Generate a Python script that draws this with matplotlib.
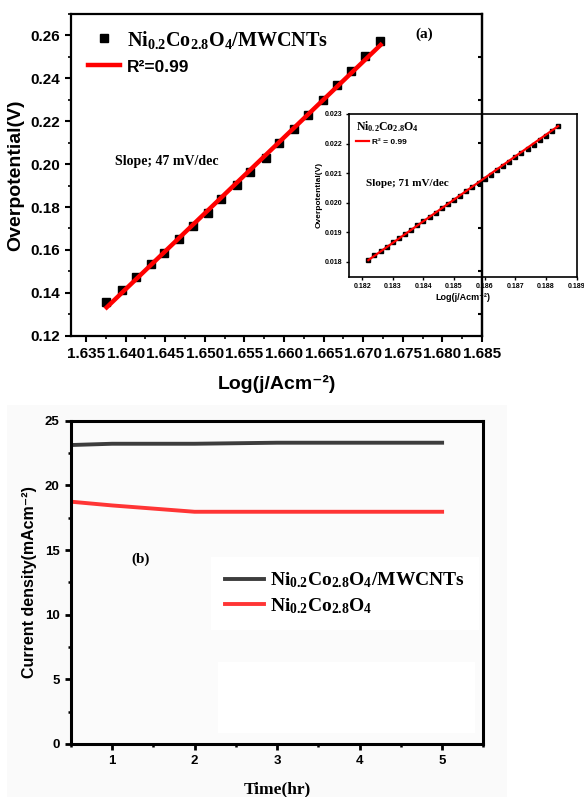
import numpy as np
import matplotlib.pyplot as plt
from matplotlib.patches import Rectangle
from matplotlib.ticker import MultipleLocator

plt.rcParams['mathtext.fontset'] = 'custom'
plt.rcParams['mathtext.rm'] = 'Liberation Serif:bold'
plt.rcParams['mathtext.bf'] = 'Liberation Serif:bold'
plt.rcParams['mathtext.it'] = 'Liberation Serif:bold'
plt.rcParams['font.family'] = ['Liberation Sans', 'DejaVu Sans']
plt.rcParams['font.weight'] = 'bold'

SANS = ['Liberation Sans', 'DejaVu Sans']
SERIF = ['Liberation Serif', 'DejaVu Serif']

# (a) Tafel plot, Ni0.2Co2.8O4/MWCNTs
tafel_x = [1.6375, 1.6395, 1.6413, 1.6432, 1.6449, 1.6468, 1.6485, 1.6504, 1.6521, 1.6540,
           1.6557, 1.6577, 1.6594, 1.6613, 1.6630, 1.6649, 1.6667, 1.6685, 1.6702, 1.6721]
tafel_y = [0.1359, 0.1413, 0.1472, 0.1533, 0.1587, 0.1649, 0.1712, 0.1774, 0.1836, 0.1903,
           0.1965, 0.2029, 0.2097, 0.2164, 0.2230, 0.2300, 0.2368, 0.2435, 0.2505, 0.2576]
fit_x = [1.6376, 1.6722]
fit_y = [0.1332, 0.2556]

# inset, Ni0.2Co2.8O4
inset_x = [0.1822, 0.1824, 0.1826, 0.1828, 0.1830, 0.1832, 0.1834, 0.1836, 0.1838, 0.1840,
           0.1842, 0.1844, 0.1846, 0.1848, 0.1850, 0.1852, 0.1854, 0.1856, 0.1858, 0.1860,
           0.1862, 0.1864, 0.1866, 0.1868, 0.1870, 0.1872, 0.1874, 0.1876, 0.1878, 0.1880,
           0.1882, 0.1884]
inset_y = [0.01806, 0.01822, 0.01836, 0.01851, 0.01866, 0.01880, 0.01894, 0.01909, 0.01924, 0.01938,
           0.01952, 0.01967, 0.01981, 0.01996, 0.02010, 0.02024, 0.02038, 0.02052, 0.02066, 0.02081,
           0.02095, 0.02110, 0.02124, 0.02139, 0.02153, 0.02168, 0.02182, 0.02196, 0.02211, 0.02226,
           0.02242, 0.02259]
inset_fit_x = [0.1822, 0.1884]
inset_fit_y = [0.01806, 0.02259]

# (b) stability
time_hr = [0.5, 1, 2, 3, 4, 5]
cnt_current = [23.12, 23.22, 23.22, 23.30, 23.30, 23.30]
bare_current = [18.74, 18.45, 17.96, 17.96, 17.96, 17.96]

label_cnt = r'$\mathbf{Ni_{0.2}Co_{2.8}O_{4}/MWCNTs}$'
label_bare = r'$\mathbf{Ni_{0.2}Co_{2.8}O_{4}}$'

fig = plt.figure(figsize=(5.84, 7.97), dpi=100)

# faint grey backdrop behind panel (b)
fig.patches.append(Rectangle((7 / 584, 0), 500 / 584, 392 / 797, transform=fig.transFigure,
                             facecolor='#fafafa', edgecolor='none', zorder=-10))

# ---------- panel (a) ----------
ax = fig.add_axes([0.1216, 0.5788, 0.7037, 0.4036])
ax.plot(tafel_x, tafel_y, 's', color='black', markersize=5.3, label=label_cnt, zorder=2)
ax.plot(fit_x, fit_y, '-', color='#ff0000', lw=3.2, label='R²=0.99', zorder=3)
ax.set_xlim(1.6331, 1.685)
ax.set_ylim(0.12, 0.27)
ax.xaxis.set_major_locator(MultipleLocator(0.005))
ax.xaxis.set_minor_locator(MultipleLocator(0.0025))
ax.yaxis.set_minor_locator(MultipleLocator(0.01))
ax.set_yticks(np.arange(0.12, 0.261, 0.02))
ax.xaxis.set_major_formatter(plt.FuncFormatter(lambda v, p: f'{v:.3f}'))
ax.yaxis.set_major_formatter(plt.FuncFormatter(lambda v, p: f'{v:.2f}'))
ax.tick_params(which='major', direction='out', length=4, width=1.5, labelsize=11, pad=4)
ax.tick_params(which='minor', direction='out', length=2.5, width=1.2)
ax.tick_params(which='both', right=False, top=False)
for s in ax.spines.values():
    s.set_linewidth(1.6)
rax = ax.secondary_yaxis('right')
rax.set_yticks(np.arange(0.13, 0.26, 0.02))
rax.tick_params(direction='in', length=3, width=1.5, labelright=False)
rax.spines['right'].set_linewidth(1.6)

ax.set_xlabel('Log(j/Acm⁻²)', fontsize=14, fontweight='bold', family=SANS, labelpad=10)
ax.set_ylabel('Overpotential(V)', fontsize=14, fontweight='bold', family=SANS, labelpad=4)

leg = ax.legend(loc='upper left', bbox_to_anchor=(0.042, 0.955), frameon=False, fontsize=14.5,
                handlelength=1.6, handletextpad=0.3, labelspacing=0.38, numpoints=1,
                borderaxespad=0, borderpad=0)
leg.get_texts()[1].set_fontfamily(SANS)
leg.get_texts()[1].set_fontsize(12.5)
leg.get_texts()[1].set_fontweight('bold')

ax.text(0.86, 0.937, '(a)', transform=ax.transAxes, fontsize=11, fontweight='bold',
        family=SERIF, ha='center', va='center')
ax.text(0.108, 0.542, 'Slope; 47 mV/dec', transform=ax.transAxes, fontsize=10, fontweight='bold',
        family=SERIF, ha='left', va='center')

# ---------- inset ----------
ins = fig.add_axes([0.5976, 0.6528, 0.3896, 0.2042])
ins.set_facecolor('none')
ins.plot(inset_x, inset_y, 's', color='black', markersize=2.2, zorder=2)
ins.plot(inset_fit_x, inset_fit_y, '-', color='#ff0000', lw=1.6, label='R² = 0.99', zorder=3)
ins.set_xlim(0.18157, 0.189)
ins.set_ylim(0.0175, 0.023)
ins.set_xticks(np.arange(0.182, 0.1891, 0.001))
ins.set_yticks(np.arange(0.018, 0.0231, 0.001))
ins.xaxis.set_major_formatter(plt.FuncFormatter(lambda v, p: f'{v:.3f}'))
ins.yaxis.set_major_formatter(plt.FuncFormatter(lambda v, p: f'{v:.3f}'))
ins.tick_params(direction='out', length=2.5, width=1, labelsize=5, pad=2)
for s in ins.spines.values():
    s.set_linewidth(1.2)
ins.set_xlabel('Log(j/Acm⁻²)', fontsize=6.5, fontweight='bold', family=SANS, labelpad=2)
ins.set_ylabel('Overpotential(V)', fontsize=6, fontweight='bold', family=SANS, labelpad=2)
ileg = ins.legend(loc='upper left', bbox_to_anchor=(0.03, 0.97), frameon=False, fontsize=6,
                  title=label_bare, title_fontsize=8.5, alignment='left',
                  handlelength=1.6, handletextpad=0.4, borderaxespad=0, borderpad=0)
ins.text(0.075, 0.57, 'Slope; 71 mV/dec', transform=ins.transAxes, fontsize=8, fontweight='bold',
         family=SERIF, ha='left', va='center')

# ---------- panel (b) ----------
bx = fig.add_axes([0.1212, 0.0665, 0.7065, 0.4056])
bx.set_facecolor('#fbfbfb')
bx.add_patch(Rectangle((0.357, 0.035), 0.623, 0.22, transform=bx.transAxes,
                       facecolor='white', edgecolor='none', zorder=0))
bx.plot(time_hr, cnt_current, '-', color='#3d3d3d', lw=2.8, label=label_cnt)
bx.plot(time_hr, bare_current, '-', color='#ff3535', lw=2.8, label=label_bare)
bx.set_xlim(0.5, 5.5)
bx.set_ylim(0, 25)
bx.set_xticks([1, 2, 3, 4, 5])
bx.xaxis.set_minor_locator(MultipleLocator(0.5))
bx.yaxis.set_major_locator(MultipleLocator(5))
bx.yaxis.set_minor_locator(MultipleLocator(2.5))
bx.tick_params(which='major', direction='out', length=4, width=2, labelsize=9.5, pad=4)
bx.tick_params(which='minor', direction='out', length=2.5, width=1.8)
for s in bx.spines.values():
    s.set_linewidth(2.2)
bx.set_xlabel('Time(hr)', fontsize=12.5, fontweight='bold', family=SERIF, labelpad=10)
bx.set_ylabel('Current density(mAcm⁻²)', fontsize=11.5, fontweight='bold', family=SANS, labelpad=6)
bx.text(0.17, 0.572, '(b)', transform=bx.transAxes, fontsize=11, fontweight='bold',
        family=SERIF, ha='center', va='center')
bleg = bx.legend(loc='upper left', bbox_to_anchor=(0.34, 0.578), frameon=True, fontsize=14,
                 handlelength=2.0, handletextpad=0.35, labelspacing=0.3, borderpad=0.7,
                 borderaxespad=0, fancybox=False)
bleg.get_frame().set_facecolor('white')
bleg.get_frame().set_edgecolor('none')
bleg.get_frame().set_alpha(1)

fig.savefig('out.png', dpi=100, facecolor='white')
